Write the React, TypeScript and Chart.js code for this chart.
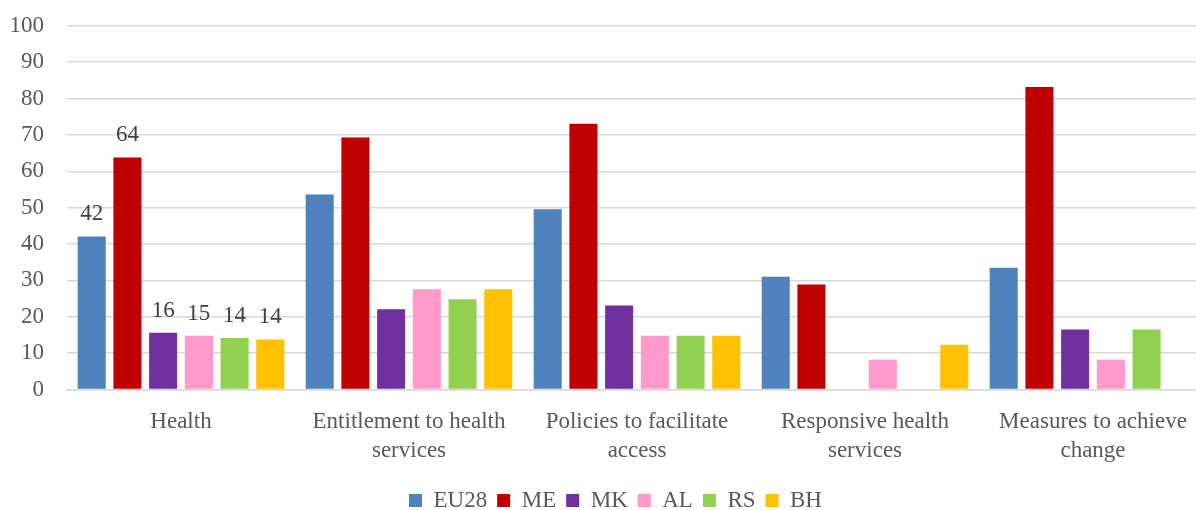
import React, { useEffect, useRef } from "react";
import { Chart, registerables } from "chart.js";

Chart.register(...registerables);

const categories: (string | string[])[] = [
  "Health",
  ["Entitlement to health", "services"],
  ["Policies to facilitate", "access"],
  ["Responsive health", "services"],
  ["Measures to achieve", "change"],
];

const seriesNames = ["EU28", "ME", "MK", "AL", "RS", "BH"];
const seriesColors = ["#4F81BD", "#C00000", "#7030A0", "#FF99CC", "#92D050", "#FFC000"];

const eu28 = [42.1, 53.6, 49.6, 31.0, 33.5];
const me = [63.8, 69.3, 73.1, 28.9, 83.2];
const mk = [15.6, 22.1, 23.1, 0, 16.5];
const al = [14.8, 27.6, 14.8, 8.2, 8.2];
const rs = [14.2, 24.8, 14.8, 0, 16.5];
const bh = [13.8, 27.6, 14.8, 12.3, 0];

const seriesValues = [eu28, me, mk, al, rs, bh];

// data labels shown only on the first category
const healthLabels = ["42", "64", "16", "15", "14", "14"];

const yMin = 0;
const yMax = 100;
const yStep = 10;

const FONT = "'Liberation Serif', 'Times New Roman', serif";
const FS = 23;

const labelPlugin = {
  id: "healthLabels",
  afterDatasetsDraw(chart: any) {
    const ctx = chart.ctx;
    ctx.save();
    ctx.font = `${FS}px ${FONT}`;
    ctx.fillStyle = "#404040";
    ctx.textAlign = "center";
    ctx.textBaseline = "alphabetic";
    chart.data.datasets.forEach((_ds: any, i: number) => {
      const meta = chart.getDatasetMeta(i);
      const bar = meta.data[0];
      if (!bar) return;
      ctx.fillText(healthLabels[i], bar.x, bar.y - 16);
    });
    ctx.restore();
  },
};

// nudge the legend block so it centres where the original did
const legendShift = {
  id: "legendShift",
  afterLayout(chart: any) {
    if (chart.legend) chart.legend.left += 24;
  },
};

export default function App() {
  const ref = useRef<HTMLCanvasElement>(null);

  useEffect(() => {
    document.documentElement.style.overflow = "hidden";
    document.body.style.margin = "0";
    document.body.style.overflow = "hidden";
    if (!ref.current) return;
    const chart = new Chart(ref.current, {
      type: "bar",
      data: {
        labels: categories,
        datasets: seriesNames.map((name, i) => ({
          label: name,
          data: seriesValues[i],
          backgroundColor: seriesColors[i],
          borderWidth: 0,
          categoryPercentage: 0.94,
          barPercentage: 0.785,
        })),
      },
      options: {
        animation: false,
        responsive: true,
        maintainAspectRatio: false,
        layout: { padding: { left: 0, top: 4, right: 0, bottom: 0 } },
        plugins: {
          legend: {
            position: "bottom",
            labels: {
              boxWidth: 13,
              boxHeight: 13,
              padding: 10,
              color: "#595959",
              font: { family: FONT, size: FS },
            },
          },
          tooltip: { enabled: false },
        },
        scales: {
          x: {
            grid: { display: false, drawTicks: false },
            border: { display: true, color: "#d9d9d9", width: 1.5 },
            ticks: {
              color: "#595959",
              font: { family: FONT, size: FS, lineHeight: 1.27 },
              padding: 18,
              maxRotation: 0,
              autoSkip: false,
            },
            afterFit(scale: any) {
              scale.height -= 5;
            },
          },
          y: {
            min: yMin,
            max: yMax,
            grid: { color: "#d9d9d9", lineWidth: 1.5, drawTicks: false },
            border: { display: false },
            ticks: {
              stepSize: yStep,
              color: "#595959",
              font: { family: FONT, size: FS },
              padding: 23,
            },
            afterFit(scale: any) {
              scale.width = 67;
            },
          },
        },
      },
      plugins: [labelPlugin, legendShift],
    });
    return () => chart.destroy();
  }, []);

  return (
    <div style={{ width: 1196, height: 510, overflow: "hidden" }}>
      <div style={{ position: "relative", top: -11, width: 1207, height: 533 }}>
        <canvas ref={ref} />
      </div>
    </div>
  );
}
